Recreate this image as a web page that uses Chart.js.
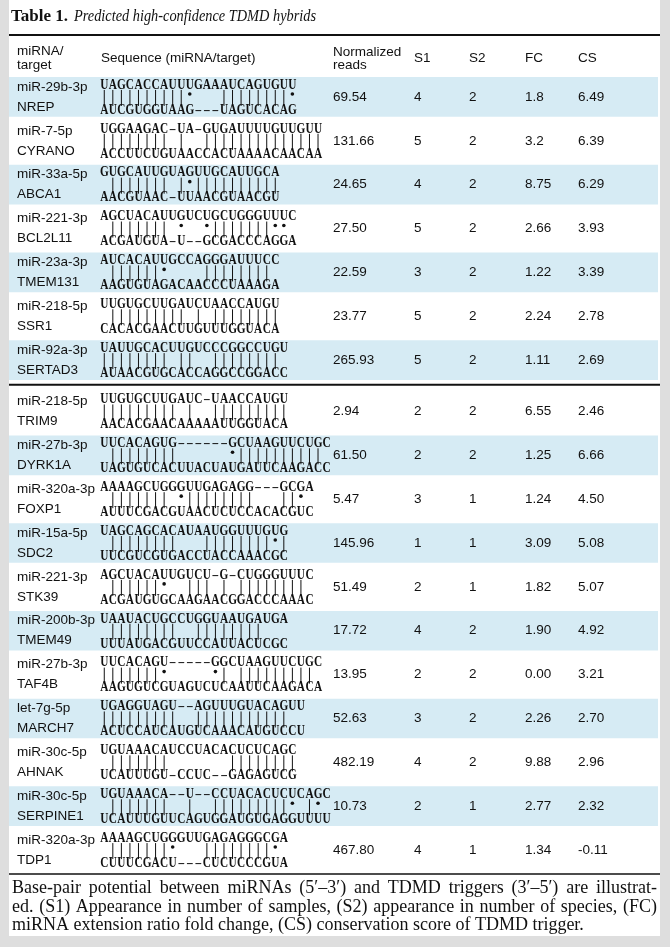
<!DOCTYPE html>
<html>
<head>
<meta charset="utf-8">
<script src="https://cdn.jsdelivr.net/npm/chart.js@4.4.1/dist/chart.umd.min.js"></script>
<style>
    html, body { margin: 0; padding: 0; background: #dedede; }
    canvas { display: block; }
</style>
</head>
<body>
<canvas id="hybridTable" width="670" height="947"></canvas>
<script>
// table data, one array per column
const mirnas = ['miR-29b-3p', 'miR-7-5p', 'miR-33a-5p', 'miR-221-3p', 'miR-23a-3p', 'miR-218-5p', 'miR-92a-3p',
    'miR-218-5p', 'miR-27b-3p', 'miR-320a-3p', 'miR-15a-5p', 'miR-221-3p', 'miR-200b-3p', 'miR-27b-3p',
    'let-7g-5p', 'miR-30c-5p', 'miR-30c-5p', 'miR-320a-3p'];
const targets = ['NREP', 'CYRANO', 'ABCA1', 'BCL2L11', 'TMEM131', 'SSR1', 'SERTAD3',
    'TRIM9', 'DYRK1A', 'FOXP1', 'SDC2', 'STK39', 'TMEM49', 'TAF4B',
    'MARCH7', 'AHNAK', 'SERPINE1', 'TDP1'];
const mirnaSeqs = ['UAGCACCAUUUGAAAUCAGUGUU', 'UGGAAGAC-UA-GUGAUUUUGUUGUU', 'GUGCAUUGUAGUUGCAUUGCA',
    'AGCUACAUUGUCUGCUGGGUUUC', 'AUCACAUUGCCAGGGAUUUCC', 'UUGUGCUUGAUCUAACCAUGU', 'UAUUGCACUUGUCCCGGCCUGU',
    'UUGUGCUUGAUC-UAACCAUGU', 'UUCACAGUG------GCUAAGUUCUGC', 'AAAAGCUGGGUUGAGAGG---GCGA',
    'UAGCAGCACAUAAUGGUUUGUG', 'AGCUACAUUGUCU-G-CUGGGUUUC', 'UAAUACUGCCUGGUAAUGAUGA',
    'UUCACAGU-----GGCUAAGUUCUGC', 'UGAGGUAGU--AGUUUGUACAGUU', 'UGUAAACAUCCUACACUCUCAGC',
    'UGUAAACA--U--CCUACACUCUCAGC', 'AAAAGCUGGGUUGAGAGGGCGA'];
const targetSeqs = ['AUCGUGGUAAG---UAGUCACAG', 'ACCUUCUGUAACCACUAAAACAACAA', 'AACGUAAC-UUAACGUAACGU',
    'ACGAUGUA-U--GCGACCCAGGA', 'AAGUGUAGACAACCCUAAAGA', 'CACACGAACUUGUUUGGUACA', 'AUAACGUGCACCAGGCCGGACC',
    'AACACGAACAAAAAUUGGUACA', 'UAGUGUCACUUACUAUGAUUCAAGACC', 'AUUUCGACGUAACUCUCCACACGUC',
    'UUCGUCGUGACCUACCAAACGC', 'ACGAUGUGCAAGAACGGACCCAAAC', 'UUUAUGACGUUCCAUUACUCGC',
    'AAGUGUCGUAGUCUCAAUUCAAGACA', 'ACUCCAUCAUGUCAAACAUGUCCU', 'UCAUUUGU-CCUC--GAGAGUCG',
    'UCAUUUGUUCAGUGGAUGUGAGGUUUU', 'CUUUCGACU---CUCUCCCGUA'];
const normReads = ['69.54', '131.66', '24.65', '27.50', '22.59', '23.77', '265.93',
    '2.94', '61.50', '5.47', '145.96', '51.49', '17.72', '13.95', '52.63', '482.19', '10.73', '467.80'];
const s1 = ['4', '5', '4', '5', '3', '5', '5', '2', '2', '3', '1', '2', '4', '2', '3', '4', '2', '4'];
const s2 = ['2', '2', '2', '2', '2', '2', '2', '2', '2', '1', '1', '1', '2', '2', '2', '2', '1', '1'];
const fc = ['1.8', '3.2', '8.75', '2.66', '1.22', '2.24', '1.11',
    '6.55', '1.25', '1.24', '3.09', '1.82', '1.90', '0.00', '2.26', '9.88', '2.77', '1.34'];
const cs = ['6.49', '6.39', '6.29', '3.93', '3.39', '2.78', '2.69',
    '2.46', '6.66', '4.50', '5.08', '5.07', '4.92', '3.21', '2.70', '2.96', '2.32', '-0.11'];
const firstBlock = 7; // rows above the middle rule

const headers = ['S1', 'S2', 'FC', 'CS'];
const footLines = [
    'Base-pair potential between miRNAs (5\u2032\u20133\u2032) and TDMD triggers (3\u2032\u20135\u2032) are illustrat-',
    'ed. (S1) Appearance in number of samples, (S2) appearance in number of species, (FC)',
    'miRNA extension ratio fold change, (CS) conservation score of TDMD trigger.'
];

// layout
const TABLE_W = 649;
const GAP = 0.17;               // extra space under the middle rule, in rows
const col = { label: 8, seq: 91, reads: 324, s1: 405, s2: 460, fc: 516, cs: 569 };
const CHAR_W = 8.55;
const SANS = 'Liberation Sans, Arial, sans-serif';
const SERIF = 'Liberation Serif, Times New Roman, serif';

function rowPos(i) {
    return i + (i >= firstBlock ? GAP : 0);
}

function pairType(a, b) {
    const p = a + b;
    if (['AU', 'UA', 'GC', 'CG'].includes(p)) return 'wc';
    if (p === 'GU' || p === 'UG') return 'wobble';
    return null;
}

// shaded rows as floating bars across the whole table
const bandData = [];
mirnas.forEach((m, i) => {
    if (i % 2 === 0) bandData.push({ x: [0, TABLE_W], y: rowPos(i) });
});

const tablePlugin = {
    id: 'tablePlugin',
    beforeDraw(chart) {
        const ctx = chart.ctx;
        ctx.save();
        ctx.fillStyle = '#dedede';
        ctx.fillRect(0, 0, chart.width, chart.height);
        ctx.fillStyle = '#ffffff';
        ctx.fillRect(9, 0, 651, 936);
        ctx.restore();
    },
    afterDatasetsDraw(chart) {
        const ctx = chart.ctx;
        const xs = chart.scales.x;
        const ys = chart.scales.y;
        const X = v => xs.getPixelForValue(v);
        const left = X(0), right = 660;

        ctx.save();
        ctx.fillStyle = '#111';
        ctx.strokeStyle = '#111';

        // title
        ctx.textBaseline = 'alphabetic';
        ctx.textAlign = 'left';
        ctx.font = 'bold 17px ' + SERIF;
        ctx.fillText('Table 1.', 11, 21);
        const tw = ctx.measureText('Table 1.').width;
        ctx.font = 'italic 17px ' + SERIF;
        const sub = 'Predicted high-confidence TDMD hybrids';
        const sw = ctx.measureText(sub).width;
        ctx.save();
        ctx.translate(11 + tw + 6, 21);
        ctx.scale(Math.min(1, 242 / sw), 1);
        ctx.fillText(sub, 0, 0);
        ctx.restore();

        // rules
        const topRule = 35;
        const midRule = (ys.getPixelForValue(rowPos(firstBlock - 1)) + ys.getPixelForValue(rowPos(firstBlock))) / 2 - 1;
        const botRule = ys.getPixelForValue(mirnas.length - 0.5 + GAP) + 2;
        ctx.lineWidth = 2;
        [topRule, midRule].forEach(y => {
            ctx.beginPath(); ctx.moveTo(left, y); ctx.lineTo(right, y); ctx.stroke();
        });
        ctx.lineWidth = 1.5;
        ctx.beginPath(); ctx.moveTo(left, botRule); ctx.lineTo(right, botRule); ctx.stroke();

        // header row
        ctx.font = '13.5px ' + SANS;
        ctx.textBaseline = 'middle';
        ctx.fillText('miRNA/', X(col.label), 51);
        ctx.fillText('target', X(col.label), 65);
        ctx.fillText('Sequence (miRNA/target)', X(col.seq) + 1, 58);
        ctx.fillText('Normalized', X(col.reads), 52);
        ctx.fillText('reads', X(col.reads), 65);
        [col.s1, col.s2, col.fc, col.cs].forEach((c, k) => ctx.fillText(headers[k], X(c), 58));

        // body
        mirnas.forEach((m, i) => {
            const yc = ys.getPixelForValue(rowPos(i));
            ctx.font = '13.5px ' + SANS;
            ctx.textAlign = 'left';
            ctx.fillText(m, X(col.label), yc - 10);
            ctx.fillText(targets[i], X(col.label), yc + 10);
            ctx.fillText(normReads[i], X(col.reads), yc);
            ctx.fillText(s1[i], X(col.s1), yc);
            ctx.fillText(s2[i], X(col.s2), yc);
            ctx.fillText(fc[i], X(col.fc), yc);
            ctx.fillText(cs[i], X(col.cs), yc);

            // sequences, one character per slot
            const top = mirnaSeqs[i], bot = targetSeqs[i];
            ctx.font = 'bold 14.5px ' + SERIF;
            ctx.textAlign = 'center';
            const n = Math.max(top.length, bot.length);
            for (let k = 0; k < n; k++) {
                const cx = X(col.seq) + (k + 0.5) * CHAR_W;
                [[top[k], yc - 12], [bot[k], yc + 13]].forEach(([ch, y]) => {
                    if (!ch) return;
                    ctx.save();
                    ctx.translate(cx, y);
                    ctx.scale(0.78, 1);
                    ctx.fillText(ch === '-' ? '\u2013' : ch, 0, 0);
                    ctx.restore();
                });
                const t = pairType(top[k], bot[k]);
                if (t === 'wc') {
                    ctx.lineWidth = 1;
                    ctx.beginPath();
                    ctx.moveTo(cx, yc - 7);
                    ctx.lineTo(cx, yc + 9);
                    ctx.stroke();
                } else if (t === 'wobble') {
                    ctx.beginPath();
                    ctx.arc(cx, yc - 3, 1.8, 0, Math.PI * 2);
                    ctx.fill();
                }
            }
        });

        // footnote, justified except the last line
        ctx.font = '18px ' + SERIF;
        ctx.textAlign = 'left';
        const fx0 = 12, fx1 = 657;
        const lineY = [888, 907, 925];
        footLines.forEach((line, li) => {
            const y = lineY[li];
            const ws = line.split(' ');
            const wordsW = ws.reduce((s, w) => s + ctx.measureText(w).width, 0);
            let space = (fx1 - fx0 - wordsW) / (ws.length - 1);
            let squeeze = 1;
            if (li === footLines.length - 1) space = ctx.measureText(' ').width;
            if (space < 3.5) {
                // too long for the column: shrink glyphs a little
                space = 3.5;
                squeeze = (fx1 - fx0 - space * (ws.length - 1)) / wordsW;
            }
            let x = fx0;
            ws.forEach(w => {
                ctx.save();
                ctx.translate(x, y);
                ctx.scale(squeeze, 1);
                ctx.fillText(w, 0, 0);
                ctx.restore();
                x += ctx.measureText(w).width * squeeze + space;
            });
        });
        ctx.restore();
    }
};

new Chart(document.getElementById('hybridTable').getContext('2d'), {
    type: 'bar',
    data: {
        datasets: [{
            data: bandData,
            backgroundColor: '#d6ebf4',
            borderWidth: 0,
            barThickness: 39
        }]
    },
    options: {
        indexAxis: 'y',
        responsive: false,
        animation: false,
        devicePixelRatio: 1,
        events: [],
        layout: { padding: { left: 9, right: 12, top: 75, bottom: 75 } },
        scales: {
            x: { type: 'linear', min: 0, max: TABLE_W, display: false },
            y: { type: 'linear', min: -0.5, max: mirnas.length - 0.5 + GAP, reverse: true, offset: false, display: false }
        },
        plugins: {
            legend: { display: false },
            tooltip: { enabled: false }
        }
    },
    plugins: [tablePlugin]
});
</script>
</body>
</html>
